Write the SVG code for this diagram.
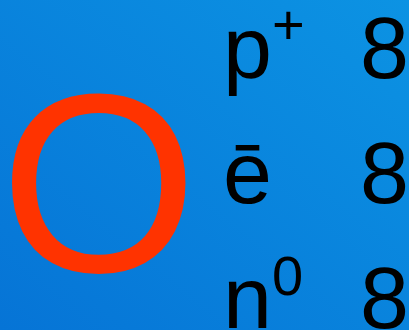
<svg xmlns="http://www.w3.org/2000/svg" width="409" height="330" viewBox="0 0 409 330">
  <defs>
    <linearGradient id="bg" x1="0" y1="1" x2="1" y2="0">
      <stop offset="0" stop-color="#0674d6"/>
      <stop offset="1" stop-color="#0c93e3"/>
    </linearGradient>
    <style>
      .t { font-family: "Liberation Sans", Arial, sans-serif; fill: #000; }
      .big { font-size: 88px; }
      .sup { font-size: 56px; }
    </style>
  </defs>
  <rect width="409" height="330" fill="url(#bg)"/>
  <g id="symbol">
    <text x="0" y="272" font-family="Liberation Sans, Arial, sans-serif" font-size="254" fill="#ff3300">O</text>
  </g>
  <g id="protons">
    <text class="t big" x="223" y="78">p</text>
    <text class="t sup" x="272" y="44">+</text>
    <text class="t big" x="360" y="78">8</text>
  </g>
  <g id="electrons">
    <text class="t big" x="223" y="203">ē</text>
    <text class="t big" x="360" y="203">8</text>
  </g>
  <g id="neutrons">
    <text class="t big" x="223" y="328">n</text>
    <text class="t sup" x="272" y="295">0</text>
    <text class="t big" x="360" y="328">8</text>
  </g>
</svg>
